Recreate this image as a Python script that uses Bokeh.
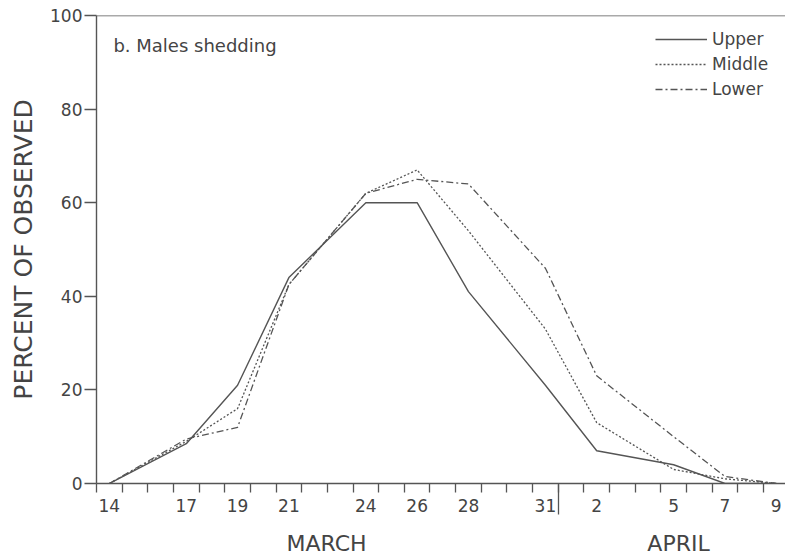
from bokeh.plotting import figure
from bokeh.models import (Range1d, FixedTicker, Span, Label, LinearAxis)
from bokeh.embed import file_html
from bokeh.resources import INLINE

# Day index: March days as-is, April d -> 31 + d
obs_days = [14, 17, 19, 21, 24, 26, 28, 31, 33, 36, 38, 40]
tick_days = [14, 17, 19, 21, 24, 26, 28, 31, 33, 36, 38, 40]
tick_labels = ["14", "17", "19", "21", "24", "26", "28", "31", "2", "5", "7", "9"]
upper = [0, 8.5, 21, 44, 60, 60, 41, 21, 7, 4, 0, 0]
middle = [0, 9, 16, 42.5, 62, 67, 54, 33, 13, 3, 1, 0]
lower = [0, 9.5, 12, 42.5, 62, 65, 64, 46, 23, 10, 1.5, 0]
month_names = ["MARCH", "APRIL"]
month_centers = [22.47, 36.19]
month_split = 31.5

FONT = "DejaVu Sans"
TXT = "#444444"
LN = "#555555"

p = figure(width=785, height=558, output_backend="svg", toolbar_location=None,
           x_range=Range1d(13.5, 40.36), y_range=Range1d(0, 100),
           min_border_left=96, min_border_right=0, min_border_top=15,
           min_border_bottom=75)
p.grid.visible = False
p.outline_line_color = None
p.background_fill_color = "white"
p.border_fill_color = "white"

p.line(obs_days, upper, line_color=LN, line_width=1.4, legend_label="Upper")
p.line(obs_days, middle, line_color=LN, line_width=1.3, line_dash="2 2",
       legend_label="Middle")
p.line(obs_days, lower, line_color=LN, line_width=1.3, line_dash="7 3 2 3",
       legend_label="Lower")

# top border
p.add_layout(Span(location=100, dimension="width", line_color=LN, line_width=1.4))

xa = p.xaxis[0]
xa.ticker = FixedTicker(ticks=tick_days,
                        minor_ticks=[d + 0.5 for d in range(13, 40)])
xa.major_label_overrides = {d: l for d, l in zip(tick_days, tick_labels)}
xa.major_tick_line_color = None
xa.major_tick_out = 0
xa.major_tick_in = 0
xa.minor_tick_out = 9
xa.minor_tick_in = 0
xa.minor_tick_line_color = LN
xa.minor_tick_line_width = 1.3
xa.axis_line_color = LN
xa.axis_line_width = 1.4
xa.major_label_standoff = 6
xa.major_label_text_font = FONT
xa.major_label_text_font_size = "17px"
xa.major_label_text_color = TXT

# month axis (second row below), its minor tick draws the month divider
ma = LinearAxis(ticker=FixedTicker(ticks=month_centers, minor_ticks=[month_split]))
ma.major_label_overrides = {c: n for c, n in zip(month_centers, month_names)}
ma.axis_line_color = None
ma.major_tick_line_color = None
ma.major_tick_out = 0
ma.major_tick_in = 0
ma.minor_tick_line_color = LN
ma.minor_tick_line_width = 1.3
ma.minor_tick_in = 30
ma.minor_tick_out = 0
ma.major_label_standoff = 16
ma.major_label_text_font = FONT
ma.major_label_text_font_size = "22px"
ma.major_label_text_color = TXT
p.add_layout(ma, "below")

ya = p.yaxis[0]
ya.ticker = FixedTicker(ticks=[0, 20, 40, 60, 80, 100], minor_ticks=[])
ya.major_tick_out = 12
ya.major_tick_in = 0
ya.major_tick_line_color = LN
ya.major_tick_line_width = 1.3
ya.axis_line_color = LN
ya.axis_line_width = 1.4
ya.major_label_standoff = 2
ya.major_label_text_font = FONT
ya.major_label_text_font_size = "17px"
ya.major_label_text_color = TXT
ya.axis_label = "PERCENT OF OBSERVED"
ya.axis_label_text_font = FONT
ya.axis_label_text_font_size = "25px"
ya.axis_label_text_font_style = "normal"
ya.axis_label_text_color = TXT
ya.axis_label_standoff = 9

p.add_layout(Label(x=14.16, y=93.6, text="b. Males shedding",
                   text_baseline="alphabetic", text_font=FONT,
                   text_font_size="18px", text_color=TXT))

lg = p.legend[0]
lg.location = (559, 384)
lg.padding = 0
lg.margin = 0
lg.border_line_color = None
lg.background_fill_alpha = 0
lg.label_standoff = 5
lg.glyph_width = 52
lg.glyph_height = 20
lg.label_height = 20
lg.spacing = 5
lg.label_text_font = FONT
lg.label_text_font_size = "17px"
lg.label_text_color = TXT

open("out.html", "w").write(file_html(p, INLINE))
